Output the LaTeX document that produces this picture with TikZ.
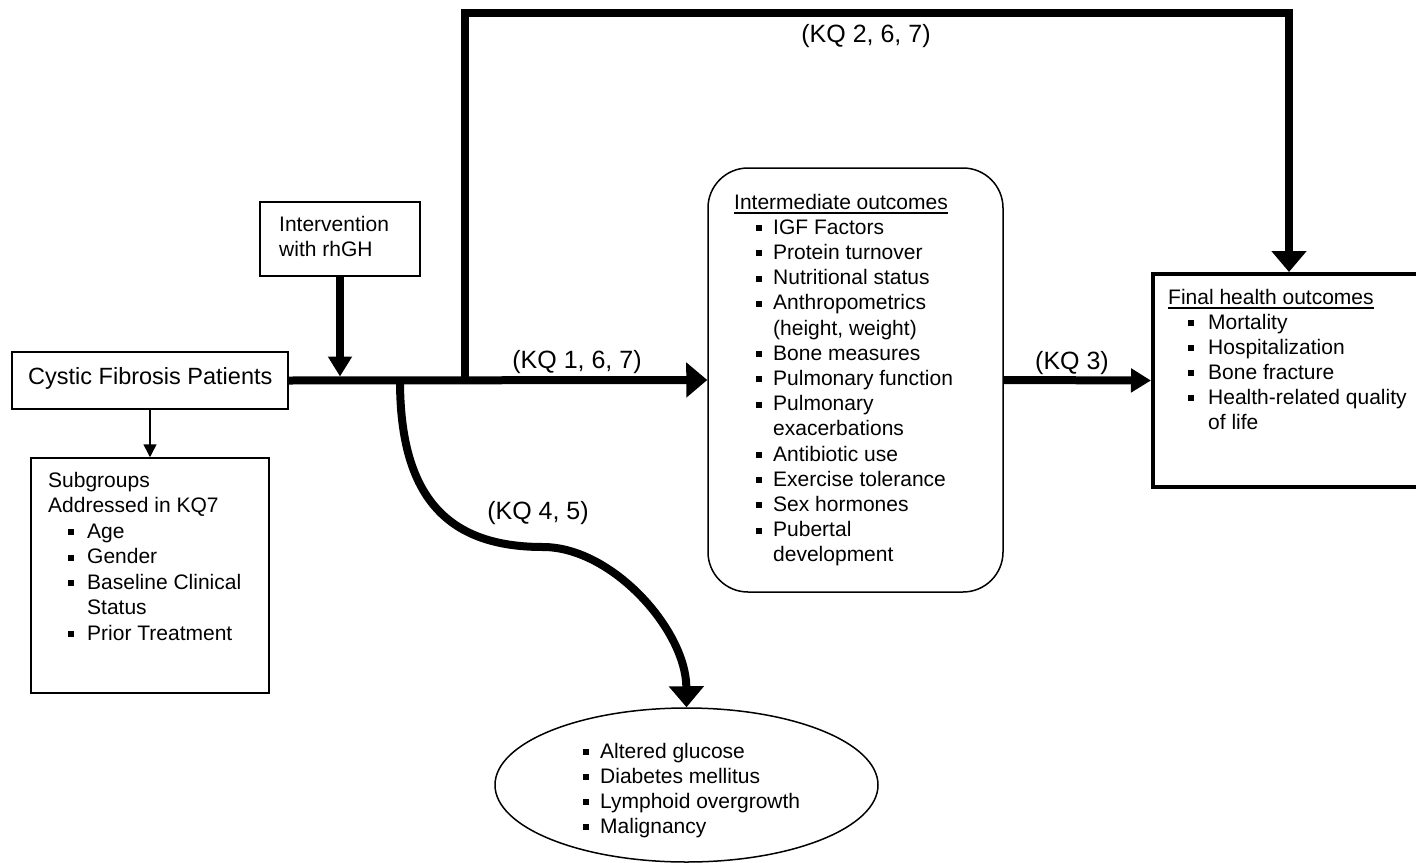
\documentclass[tikz,border=0pt]{standalone}
\usepackage{fontspec}
\setmainfont{Liberation Sans}
\usetikzlibrary{arrows.meta,shapes.geometric,calc}
\newcommand\bul[1][17pt]{\makebox[#1][l]{\rule[3pt]{6pt}{6pt}}}
\newcommand\cont[1][17pt]{\hspace*{#1}}
\newcommand\ulhead[1]{\setbox0\hbox{#1}\rlap{\rule[-4.5pt]{\wd0}{1.5pt}}\box0}
\begin{document}
\begin{tikzpicture}[x=1pt,y=-1pt,
  box/.style={draw, line width=1.5pt, inner sep=0pt, rectangle},
  txt/.style={inner sep=0pt, anchor=base west, font=\fontsize{21}{25}\selectfont},
  kq/.style={inner sep=0pt, anchor=base, font=\fontsize{25}{30}\selectfont},
  flow/.style={line width=8pt, line join=miter},
  bigtip/.style={-{Triangle[length=21pt,width=34pt]}},
  smalltip/.style={-{Triangle[length=20pt,width=23pt]}},
  thintip/.style={line width=1.5pt, -{Triangle[length=13pt,width=13pt]}}]
\useasboundingbox (0,0) rectangle (1416,862);
\clip (0,0) rectangle (1416,862);
\fill[white] (0,0) rectangle (1416,862);

% boxes
\node[box, minimum width=160pt, minimum height=74pt] (iv) at (340,239) {};
\node[box, minimum width=276pt, minimum height=57pt] (cf) at (150,380.5) {};
\node[box, minimum width=238pt, minimum height=235pt] (sg) at (150,575.5) {};
\node[box, rounded corners=40pt, minimum width=295pt, minimum height=424pt] (im) at (855.5,380) {};
\node[box, line width=4pt, minimum width=272pt, minimum height=213pt] (fin) at (1289,380.5) {};
\node[draw, line width=1.5pt, ellipse, inner sep=0pt, minimum width=383pt, minimum height=154pt] (adv) at (686.5,785) {};

% texts
\node[txt] (ivt1) at (279,231) {Intervention};
\node[txt] (ivt2) at (279,256) {with rhGH};
\node[txt, font=\fontsize{23.5}{28}\selectfont] (cft) at (28,384) {Cystic Fibrosis Patients};

\node[txt] (sgh1) at (48,487) {Subgroups};
\node[txt] (sgh2) at (48,512.5) {Addressed in KQ7};
\foreach \t [count=\i] in {{\bul[19pt]Age},{\bul[19pt]Gender},{\bul[19pt]Baseline Clinical},{\cont[19pt]Status},{\bul[19pt]Prior Treatment}}
  \node[txt, name=sg\i] at (68,{512.5+25.5*\i}) {\t};

\node[txt] (imh) at (734,209) {\ulhead{Intermediate outcomes}};
\foreach \t [count=\i] in {{\bul IGF Factors},{\bul Protein turnover},{\bul Nutritional status},{\bul Anthropometrics},{\cont(height, weight)},{\bul Bone measures},{\bul Pulmonary function},{\bul Pulmonary},{\cont exacerbations},{\bul Antibiotic use},{\bul Exercise tolerance},{\bul Sex hormones},{\bul Pubertal},{\cont development}}
  \node[txt, name=imt\i] at (756,{209+25.2*\i}) {\t};

\node[txt] (finh) at (1168,304) {\ulhead{Final health outcomes}};
\foreach \t [count=\i] in {{\bul[20pt]Mortality},{\bul[20pt]Hospitalization},{\bul[20pt]Bone fracture},{\bul[20pt]Health-related quality},{\cont[20pt]of life}}
  \node[txt, name=fint\i] at (1188,{304+25*\i}) {\t};

\foreach \t [count=\i] in {{\bul Altered glucose},{\bul Diabetes mellitus},{\bul Lymphoid overgrowth},{\bul Malignancy}}
  \node[txt, name=advt\i] at (583,{733+25*\i}) {\t};

% labels
\node[kq] (kq267) at (866,42) {(KQ 2, 6, 7)};
\node[kq] (kq167) at (577,368) {(KQ 1, 6, 7)};
\node[kq] (kq3) at (1072,369) {(KQ 3)};
\node[kq] (kq45) at (538,519) {(KQ 4, 5)};

% coordinates
\coordinate (split1) at (400,380.5);
\coordinate (split2) at (465,380.5);
\coordinate (tl) at (465,13);
\coordinate (tr) at (fin.north |- tl);
\coordinate (mid) at (543,547);

% connectors
\draw[flow, bigtip] (cf.east) -- (im.west);
\draw[flow, smalltip] (iv.south) -- ($(iv.south |- cf.east)+(0,-4)$);
\draw[flow, bigtip] (split2) -- (tl) -- (tr) -- (fin.north);
\draw[flow, smalltip] (im.east) -- (fin.west);
\draw[flow, bigtip] (split1) .. controls (400,500) and (450,547) .. (mid)
  .. controls (612,547) and (686,630) .. (adv.north);
\draw[thintip] (cf.south) -- (sg.north);
\end{tikzpicture}
\end{document}
